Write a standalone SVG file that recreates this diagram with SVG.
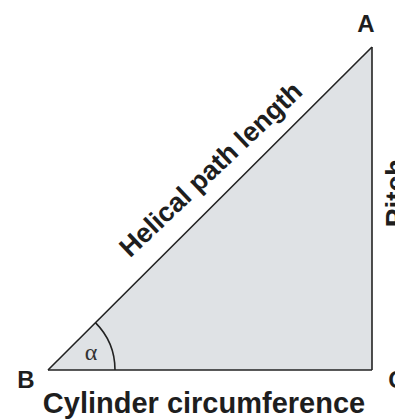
<svg xmlns="http://www.w3.org/2000/svg" width="395" height="420" viewBox="0 0 395 420">
<style>
.lbl{font-family:"Liberation Sans",Arial,sans-serif;font-weight:bold;fill:#1e1e1e}
.edge{fill:none;stroke:#222;stroke-width:1.6}
</style>
<rect width="395" height="420" fill="#ffffff"/>
<g id="triangle">
<polygon points="48,370 372,47 372,370" fill="#dfe2e5"/>
</g>
<g id="connectors">
<line class="edge" x1="48" y1="370" x2="372" y2="47"/>
<line class="edge" x1="372" y1="47" x2="372" y2="370"/>
<line class="edge" x1="48" y1="370" x2="372" y2="370"/>
<path class="edge" d="M115,370 A67,67 0 0 0 95.4,322.6"/>
</g>
<g id="A"><text class="lbl" x="366" y="32" font-size="24" text-anchor="middle">A</text></g>
<g id="B"><text class="lbl" x="26" y="388" font-size="24" text-anchor="middle">B</text></g>
<g id="C"><text class="lbl" x="397" y="388" font-size="24" text-anchor="middle">C</text></g>
<g id="alpha"><text x="91" y="360" font-family="Liberation Serif,serif" font-size="24" fill="#333" text-anchor="middle">α</text></g>
<g id="hyp"><text class="lbl" x="0" y="0" font-size="27" text-anchor="middle" transform="translate(217,176) rotate(-43.5)">Helical path length</text></g>
<g id="base"><text class="lbl" x="204" y="413" font-size="29" text-anchor="middle">Cylinder circumference</text></g>
<g id="pitch"><text class="lbl" x="0" y="0" font-size="28" text-anchor="middle" transform="translate(405,193) rotate(-90)">Pitch</text></g>
</svg>
